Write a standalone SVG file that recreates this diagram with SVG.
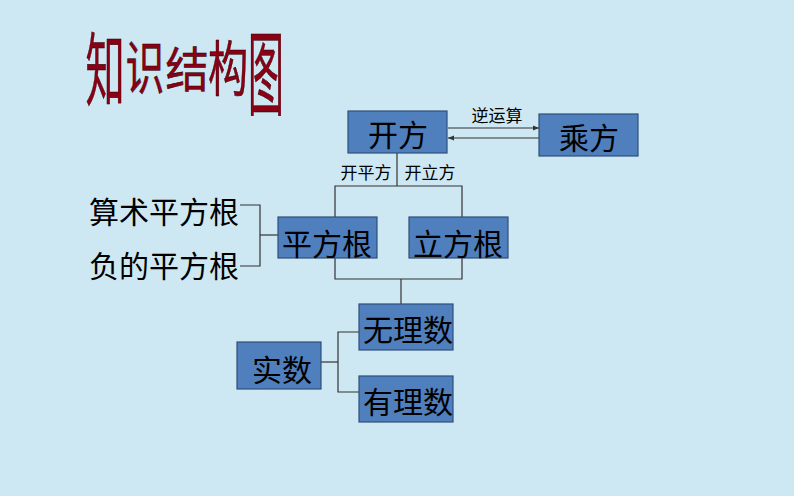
<svg xmlns="http://www.w3.org/2000/svg" width="794" height="496" viewBox="0 0 794 496">
<defs>
<style>
.box{fill:#4f7fbd;stroke:#2f4f7a;stroke-width:1.2}
.bt{font-family:"Noto Sans CJK SC",sans-serif;font-size:30px;fill:#000;text-anchor:middle;dominant-baseline:central}
.lt{font-family:"Noto Sans CJK SC",sans-serif;font-size:17px;fill:#000;text-anchor:middle;dominant-baseline:central}
.ln{fill:none;stroke:#333;stroke-width:1.2}
.tt{font-family:"Noto Sans CJK SC",sans-serif;fill:#8a0014;stroke:#200;stroke-width:0.5;text-anchor:middle;dominant-baseline:central}
</style>
<marker id="ah" viewBox="0 0 10 10" refX="10" refY="5" markerWidth="6" markerHeight="6" orient="auto-start-reverse" markerUnits="userSpaceOnUse">
<path d="M0,1 L10,5 L0,9 z" fill="#333"/>
</marker>
</defs>
<rect width="794" height="496" fill="#cde8f2"/>
<g id="title">
<text class="tt" font-size="80" transform="translate(105,64) scale(0.49,1)">知</text>
<text class="tt" font-size="58" transform="translate(145,64) scale(0.67,1)">识</text>
<text class="tt" font-size="48" transform="translate(187,66) scale(0.9,1)">结</text>
<text class="tt" font-size="60" transform="translate(228,65) scale(0.67,1)">构</text>
<text class="tt" font-size="92" transform="translate(266,68) scale(0.39,1)">图</text>
</g>
<g id="connectors">
<line class="ln" x1="448" y1="128" x2="539" y2="128" marker-end="url(#ah)"/>
<line class="ln" x1="448" y1="138" x2="539" y2="138" marker-start="url(#ah)"/>
<polyline class="ln" points="397,153 397,186"/>
<polyline class="ln" points="335,217 335,186 462,186 462,217"/>
<polyline class="ln" points="335,258 335,279 462,279 462,258"/>
<polyline class="ln" points="401,279 401,304"/>
<polyline class="ln" points="240,205 260,205 260,266 240,266"/>
<polyline class="ln" points="260,235 278,235"/>
<polyline class="ln" points="321,362 338,362"/>
<polyline class="ln" points="359,332 338,332 338,392 359,392"/>
<text class="lt" x="497" y="114" font-size="19">逆运算</text>
<text class="lt" x="366" y="171">开平方</text>
<text class="lt" x="430" y="171">开立方</text>
</g>
<g id="kaifang"><rect class="box" x="348" y="111" width="99" height="42"/><text class="bt" x="398" y="133">开方</text></g>
<g id="chengfang"><rect class="box" x="539" y="114" width="99" height="42"/><text class="bt" x="589" y="136">乘方</text></g>
<g id="pingfanggen"><rect class="box" x="278" y="217" width="99" height="41"/><text class="bt" x="327" y="242">平方根</text></g>
<g id="lifanggen"><rect class="box" x="409" y="217" width="99" height="41"/><text class="bt" x="458" y="242">立方根</text></g>
<g id="suanshu"><text class="bt" x="164" y="210">算术平方根</text></g>
<g id="fude"><text class="bt" x="164" y="264">负的平方根</text></g>
<g id="wulishu"><rect class="box" x="359" y="304" width="94" height="46"/><text class="bt" x="408" y="328">无理数</text></g>
<g id="youlishu"><rect class="box" x="359" y="376" width="94" height="46"/><text class="bt" x="408" y="400">有理数</text></g>
<g id="shishu"><rect class="box" x="237" y="342" width="84" height="47"/><text class="bt" x="282" y="368">实数</text></g>
</svg>
